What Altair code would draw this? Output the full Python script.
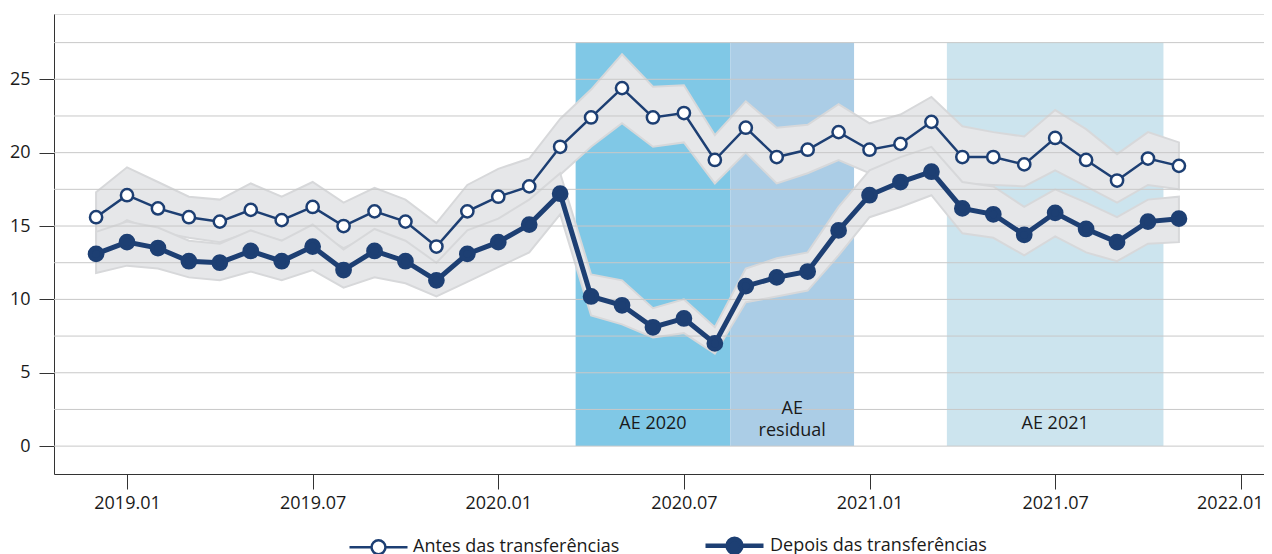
import altair as alt
import pandas as pd

# ---- data ----
months = ["2018.12"] + [f"2019.{m:02d}" for m in range(1, 13)] + \
         [f"2020.{m:02d}" for m in range(1, 13)] + [f"2021.{m:02d}" for m in range(1, 12)]

antes = [15.6, 17.1, 16.2, 15.6, 15.3, 16.1, 15.4, 16.3, 15.0, 16.0, 15.3, 13.6,
         16.0, 17.0, 17.7, 20.4, 22.4, 24.4, 22.4, 22.7, 19.5, 21.7, 19.7, 20.2,
         21.4, 20.2, 20.6, 22.1, 19.7, 19.7, 19.2, 21.0, 19.5, 18.1, 19.6, 19.1]
antes_hi = [17.3, 19.0, 18.0, 17.0, 16.8, 17.9, 17.0, 18.0, 16.6, 17.6, 16.8, 15.2,
            17.8, 18.9, 19.6, 22.3, 24.3, 26.7, 24.5, 24.6, 21.2, 23.5, 21.7, 21.9,
            23.3, 22.0, 22.6, 23.8, 21.8, 21.4, 21.1, 22.9, 21.6, 19.9, 21.4, 20.7]
antes_lo = [14.1, 15.4, 14.6, 14.2, 13.9, 14.6, 14.0, 14.7, 13.5, 14.5, 13.8, 12.0,
            14.3, 15.2, 15.9, 18.5, 20.4, 22.0, 20.4, 20.7, 17.9, 20.0, 17.9, 18.6,
            19.5, 18.6, 19.0, 20.2, 17.9, 17.8, 17.7, 18.8, 17.7, 16.6, 17.8, 17.5]

depois = [13.1, 13.9, 13.5, 12.6, 12.5, 13.3, 12.6, 13.6, 12.0, 13.3, 12.6, 11.3,
          13.1, 13.9, 15.1, 17.2, 10.2, 9.6, 8.1, 8.7, 7.0, 10.9, 11.5, 11.9,
          14.7, 17.1, 18.0, 18.7, 16.2, 15.8, 14.4, 15.9, 14.8, 13.9, 15.3, 15.5]
depois_hi = [14.6, 15.3, 14.9, 14.0, 13.8, 14.7, 14.0, 15.1, 13.4, 14.8, 14.0, 12.5,
             14.7, 15.5, 16.8, 18.6, 11.7, 11.3, 9.4, 10.0, 8.1, 12.1, 12.8, 13.2,
             16.3, 18.8, 19.7, 20.4, 18.0, 17.7, 16.3, 17.5, 16.6, 15.6, 16.8, 17.0]
depois_lo = [11.8, 12.3, 12.1, 11.5, 11.3, 11.9, 11.3, 12.0, 10.8, 11.5, 11.1, 10.2,
             11.2, 12.2, 13.2, 15.8, 8.9, 8.3, 7.4, 7.7, 6.3, 9.8, 10.2, 10.6,
             13.0, 15.6, 16.3, 17.1, 14.5, 14.2, 13.0, 14.3, 13.2, 12.6, 13.8, 13.9]

series_names = ["Antes das transferências", "Depois das transferências"]

region_names = ["AE 2020", "AE residual", "AE 2021"]
region_labels = [["AE 2020"], ["AE", "residual"], ["AE 2021"]]
region_start = [14.5, 19.5, 26.5]   # month index (0 = 2019.01)
region_end = [19.5, 23.5, 33.5]
region_label_y = [1.5, 2.5, 1.5]
region_colors = ["#80c8e6", "#abcde6", "#cce4ee"]

grid_values = [0, 2.5, 5, 7.5, 10, 12.5, 15, 17.5, 20, 22.5, 25, 27.5]
y_ticks = [0, 5, 10, 15, 20, 25]
x_ticks = [0, 6, 12, 18, 24, 30, 36]

# ---- tables ----
def month_index(s):
    y, m = s.split(".")
    return (int(y) - 2019) * 12 + int(m) - 1

rows = []
for name, v, lo, hi in [(series_names[0], antes, antes_lo, antes_hi),
                        (series_names[1], depois, depois_lo, depois_hi)]:
    for mth, a, b, c in zip(months, v, lo, hi):
        rows.append({"t": month_index(mth), "serie": name, "v": a, "lo": b, "hi": c})
df = pd.DataFrame(rows)

regions = pd.DataFrame({
    "name": region_names, "label": region_labels,
    "start": region_start, "end": region_end,
    "mid": [(a + b) / 2 for a, b in zip(region_start, region_end)],
    "ly": region_label_y, "y0": [0] * 3, "y1": [27.5] * 3,
})
grid_df = pd.DataFrame({"g": grid_values})

NAVY = "#1d3f73"
FONT = "Open Sans"
FS = 18

xscale = alt.Scale(domain=[-2.36, 36.75], nice=False, zero=False)
yscale = alt.Scale(domain=[-1.9, 29.45], nice=False, zero=False)

x_axis = alt.Axis(values=x_ticks, title=None, grid=False, tickSize=15, tickColor="#333",
                  domainColor="#333", labelFontSize=FS, labelFont=FONT, labelColor="#1a1a1a",
                  labelPadding=5,
                  labelOffset={"condition": {"test": "datum.value == 36", "value": -11}, "value": 0},
                  labelExpr="(2019 + floor(datum.value / 12)) + '.' + (datum.value % 12 == 0 ? '01' : '07')")
y_axis = alt.Axis(values=y_ticks, title=None, grid=False, tickSize=15, tickColor="#333",
                  domainColor="#333", labelFontSize=FS, labelFont=FONT, labelColor="#1a1a1a",
                  labelPadding=9)

base = alt.Chart(df)

rects = alt.Chart(regions).mark_rect().encode(
    x=alt.X("start:Q", scale=xscale, axis=x_axis),
    x2="end:Q",
    y=alt.Y("y0:Q", scale=yscale, axis=y_axis),
    y2="y1:Q",
    color=alt.Color("name:N", scale=alt.Scale(domain=region_names, range=region_colors), legend=None),
)

region_text = alt.Chart(regions).mark_text(font=FONT, fontSize=FS, color="#1a1a1a",
                                           baseline="middle", lineHeight=22).encode(
    x="mid:Q", y="ly:Q", text="label"
)

bands = base.mark_area(fill="#e6e7e9", stroke="#d7d8da", strokeWidth=2, interpolate="linear").encode(
    x="t:Q", y="lo:Q", y2="hi:Q", detail="serie:N"
)

grid = alt.Chart(grid_df).mark_rule(color="#c8c8c8", strokeWidth=1).encode(y="g:Q")

line_a = base.transform_filter(alt.datum.serie == series_names[0]).mark_line(
    color=NAVY, strokeWidth=2.5).encode(x="t:Q", y="v:Q")
line_d = base.transform_filter(alt.datum.serie == series_names[1]).mark_line(
    color=NAVY, strokeWidth=5).encode(x="t:Q", y="v:Q")

legend = alt.Legend(
    title=None, orient="none", direction="horizontal", legendX=294, legendY=500,
    symbolType="M-1,0L-0.24,0M0.24,0L1,0M-0.24,0A0.24,0.24,0,1,0,0.24,0A0.24,0.24,0,1,0,-0.24,0Z",
    symbolSize=3364, symbolStrokeColor=NAVY, labelFont=FONT, labelFontSize=FS,
    labelColor="#1a1a1a", labelOffset=4, columnPadding=76, labelLimit=400,
)

points = base.mark_point(filled=True, shape="circle", size=150, stroke=NAVY, opacity=1).encode(
    x="t:Q", y="v:Q",
    fill=alt.Fill("serie:N", scale=alt.Scale(domain=series_names, range=["#ffffff", NAVY]), legend=legend),
    strokeWidth=alt.StrokeWidth("serie:N", scale=alt.Scale(domain=series_names, range=[2.5, 4.5]), legend=legend),
)

chart = alt.layer(rects, bands, grid, region_text, line_a, line_d, points).properties(
    width=1210, height=460,
    autosize=alt.AutoSizeParams(type="none"),
    padding={"left": 46, "top": 6, "right": 0, "bottom": 80},
).configure_view(stroke="#c8c8c8", strokeWidth=1).configure(background="white")

chart.save("out.html", embed_options={"renderer": "svg", "actions": False})
